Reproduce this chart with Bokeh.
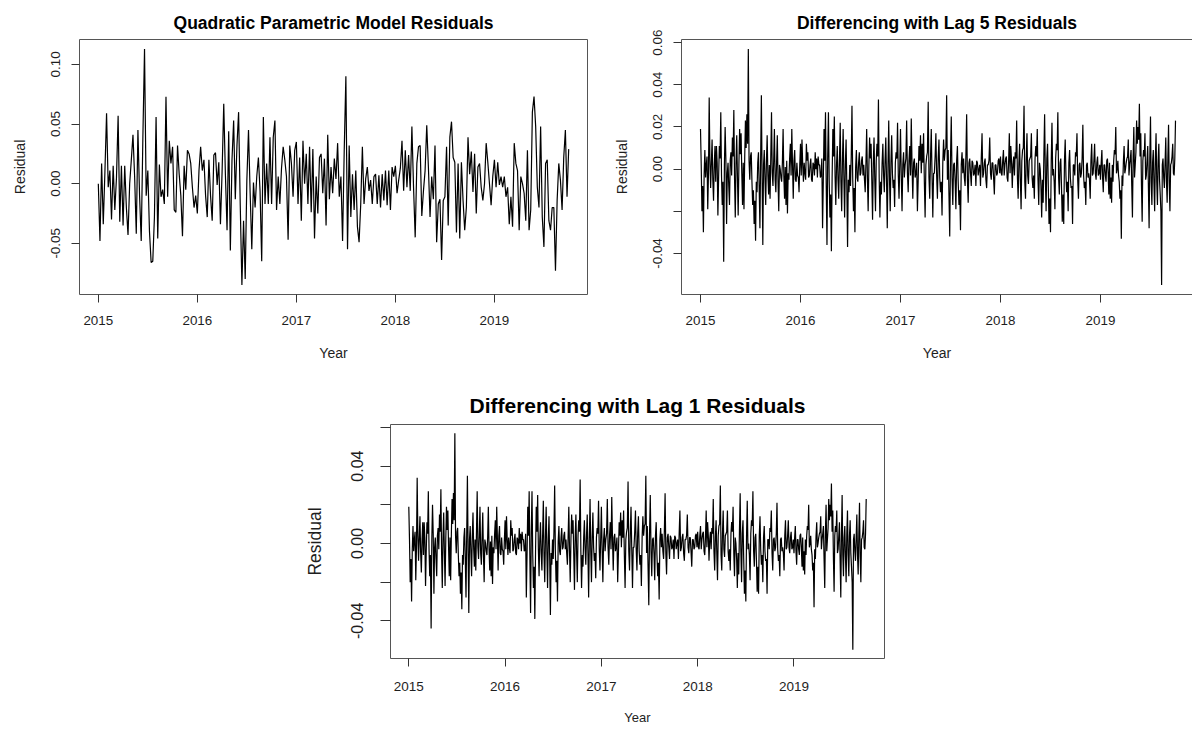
import numpy as np
from bokeh.plotting import figure
from bokeh.layouts import column, row, Spacer
from bokeh.models import FixedTicker, Range1d, LinearAxis
from bokeh.embed import file_html
from bokeh.resources import INLINE

FONT = "Liberation Sans"

# ---------------- data ----------------
years = [2015, 2016, 2017, 2018, 2019]
year_labels = ["2015", "2016", "2017", "2018", "2019"]
series_start = 2015.0
series_end = 2019.75

# Quadratic parametric model residuals (in thousandths), 60 readings per year, 2015.0 .. 2019.75
quad_resid = [
    0, -48, 17, -34, 10, 59, -3, 11, -30, 15,
    -22, 5, 57, -32, 15, -35, 15, -20, -43, 0,
    20, 41, 6, -42, 45, -10, -48, 39, 113, -10,
    11, -40, -66, -65, -28, 56, -46, 16, -11, -5,
    -17, 73, -11, 36, 17, 31, -22, -24, 32, 8,
    -10, -44, 15, -5, 28, 25, 17, -3, -20, -10,
    -25, 11, 31, 11, 20, -10, -28, 20, -10, -31,
    24, 26, -1, 18, -34, 10, 67, 8, -39, 44,
    -56, 20, 53, -13, 32, 60, -18, -85, -31, -80,
    3, 45, -8, -55, 1, -20, 6, 22, -6, -65,
    56, -17, 17, -17, 39, -17, 39, 53, -22, 6,
    -17, 13, 31, 20, 6, -47, 32, 17, -11, 28,
    35, -17, 22, -31, 36, 0, 25, -17, 31, -24,
    29, -46, 6, -25, 22, 25, -8, 21, -35, 41,
    -13, 14, -8, 21, 4, 34, -11, 6, -48, 28,
    90, -55, 32, -28, 8, -22, 11, -36, -49, -17,
    31, -17, 4, 14, -6, 3, -17, 6, 8, -17,
    7, -20, 8, -14, 11, -18, 11, -22, 14, 6,
    15, -8, 3, 13, 36, -6, 28, -3, 24, -6,
    48, -3, -45, 17, 31, 32, -27, -6, 11, 49,
    14, -28, 6, -13, 32, -49, -17, -13, -64, -14,
    -11, 31, -35, 39, 52, 22, 18, -41, 17, -46,
    18, -14, -39, -20, 39, 8, 27, -7, 25, -25,
    14, 17, -3, -14, 0, 34, 18, 0, -18, 6,
    20, -3, 18, -1, 6, -3, 6, -11, -3, -34,
    -11, -36, 34, 17, 11, -39, 6, 0, -8, -31,
    28, -39, -22, 60, 73, 48, -3, -20, 48, -28,
    -53, 17, 20, -31, -39, -20, -20, -73, -14, 17,
    3, -22, 22, 45, -11, 29,
]

# Differencing residuals (in thousandths), one list per calendar year (2019 runs to 2019.75)
diff_resid_2015 = [
    19, 2, -20, -8, -30, -3, 9, -4, 2, 6, -19, -2, 34, 4, -9, 3, 14, -5, -15, 2,
    11, -6, 11, 3, -22, -4, 11, 5, 27, -3, -17, -6, -44, 2, 20, 5, -26, -2, 3, -8,
    -17, 4, 8, -3, 15, 6, 28, -5, -23, 3, 16, -4, -22, 2, 19, 7, 17, -2, -17, 3,
    -19, 5, 23, 10, 26, 12, 57, 4, -5, 6, 8, -6, -17, -10, -26, -15, -34, -6, -11, 3,
    8, -9, -28, 5, 35, -4, -36, 2, 9, -5, -17, 4, 16, -3, -12, 2, -14, 6, 27, -2,
    -8, 4, 19, -5, -11, 3, 16, -6, -20, 2, 0, -4, -6, 3, 19, -3, -14, 1, -17, 4,
    -21, -2, -5, 5, 12, -3, 19, 2, -14, 4, 9, -5, -6, 3, -3, -4, -11, 2,
]
diff_resid_2016 = [
    12, -3, 14, 2, -6, 3, -2, -5, 12, 4, 8, -4, -3, 2, 5, -5, -6, 3, 2, -3,
    8, 0, 5, -4, 6, 2, 2, -4, -3, 5, -28, -6, 19, 4, 27, -8, -36, 6, 27, -5,
    -23, -12, -39, -4, 19, 6, 25, -3, -17, 2, 11, -5, -14, 4, 22, -6, -20, 3, 19, -4,
    -23, 2, 14, -8, -37, -5, -11, 2, -8, 6, 30, -4, -20, -9, -30, 1, 9, -4, -6, 3,
    8, -3, -2, 4, 6, -3, 2, -5, -11, 3, 19, -4, -20, 2, 15, 5, 12, -6, -24, 3,
    15, -5, -20, 4, 12, 6, 33, -4, -23, -6, -12, 3, 12, -3, -11, 4, 15, -5, -28, 2,
    23, -4, -20, 3, 16, -2, -9, -5, -18, 3, 8, 5, 22, -3, -14, 2,
]
diff_resid_2017 = [
    19, -3, -20, 2, 8, -4, 2, 5, 23, -2, -11, 4, 11, -3, 24, 2, -14, 3, 5, -4,
    -2, 3, -20, -5, 11, 4, 16, -2, 12, 3, 17, -6, -23, 2, 6, 8, 32, -4, -14, 5,
    19, -3, -23, -2, -2, 6, 17, -3, -14, 5, 14, -4, -11, -6, -22, 3, 14, 4, 9, 10,
    35, -5, 9, -12, -32, 5, 25, -4, -17, 2, 3, -5, -19, 4, 11, -6, -17, -10, -29, 2,
    8, -2, 5, -4, -8, 6, 26, -5, -16, 3, 5, -2, -8, 4, 3, -3, -2, 2, -8, 4,
    3, -3, 0, 2, -8, 5, 17, -4, -2, 3, 5, -5, -9, 2, 2, 4, 15, -2, -5, 3,
    3, -4, -12, 2, 2, -3, -2, 4, 5, -2,
]
diff_resid_2018 = [
    6, -2, -3, 4, 9, -3, 2, 5, 6, -4, -6, 3, 17, -2, 11, 4, -9, 2, 6, -3,
    8, 5, 23, -4, -14, 3, 12, -5, -19, 4, 9, 10, 30, -6, -14, 5, 17, -3, -7, 4,
    5, 6, 17, -4, -9, -3, -14, 5, 11, 6, 19, -5, -17, 3, 0, -8, -23, -5, -16, 7,
    26, -4, -20, 5, 12, -8, -26, -14, -30, 4, 22, -3, 0, -6, -19, 5, 12, 9, 27, -4,
    -12, 3, 5, -9, -25, -12, -26, 4, 14, -3, -11, -6, -20, 3, 9, -4, -9, -8, -26, 2,
    2, -3, 8, 6, 17, -5, -14, 2, 3, -4, -2, 5, 21, -3, -9, -6, -17, 2, 3, -4,
    -2, -5, -14, 4, 12, -3, -2, 4, 12, -2, -5, 3, 6, -3, -2, 2,
]
diff_resid_2019 = [
    -5, 3, 9, -4, -11, 2, 2, -3, -6, 4, 5, -2, -12, 3, -14, -4, -16, 2, -6, 4,
    9, 7, 20, -2, 0, 4, -3, -6, -14, -10, -33, -3, -8, 4, 11, -2, 0, 3, 5, 6,
    14, -3, 2, 5, 9, -8, -23, 6, 20, -4, 2, 8, 23, 12, 20, 14, 31, 6, 17, -8,
    -25, 4, 9, 6, 17, -5, -3, 4, 11, -9, -28, 5, 25, -6, -17, 3, 9, -7, -20, 5,
    17, -6, -17, 4, 12, -5, -12, -20, -55, 2, 5, -4, -9, 3, 15, -6, -16, 5, 21, -7,
    -20, 2, 3, 6, 12, -2, -3, 5, 23,
]
diff_years = [2015, 2016, 2017, 2018, 2019]
diff_lists = [diff_resid_2015, diff_resid_2016, diff_resid_2017, diff_resid_2018, diff_resid_2019]

quad_yticks = [-0.05, 0.0, 0.05, 0.10]
quad_ylabels = ["-0.05", "0.00", "0.05", "0.10"]
diff_yticks = [-0.04, -0.02, 0.0, 0.02, 0.04, 0.06]
lag5_ylabels = ["-0.04", "", "0.00", "0.02", "0.04", "0.06"]
lag1_ylabels = ["-0.04", "", "0.00", "", "0.04", ""]

# ---------------- derived series ----------------
quad_y = np.array(quad_resid, dtype=float) / 1000.0
quad_x = np.linspace(series_start, series_end, len(quad_y))

dx, dy = [], []
for i, (yr, vals) in enumerate(zip(diff_years, diff_lists)):
    n = len(vals)
    if i == len(diff_years) - 1:
        xs = np.linspace(yr, series_end, n)
    else:
        xs = np.linspace(yr, yr + 1, n, endpoint=False)
    dx.append(xs)
    dy.append(np.array(vals, dtype=float) / 1000.0)
diff_x = np.concatenate(dx)
diff_y = np.concatenate(dy)

def r_range(lo, hi):
    pad = 0.04 * (hi - lo)
    return lo - pad, hi + pad

x_lo, x_hi = r_range(series_start, series_end)
q_lo, q_hi = r_range(quad_y.min(), quad_y.max())
d_lo, d_hi = r_range(diff_y.min(), diff_y.max())

BOX = "#555555"
TICK = "#333333"
TXT = "#1e1e1e"


def style(p, title_size, title_standoff, xtick_size, ytick_size, xlab_size, ylab_size,
          xtick_standoff, ytick_standoff, xlab_standoff, ylab_standoff, ytick_len,
          yticks, ylabels):
    p.title.text_font = FONT
    p.title.text_font_size = title_size
    p.title.text_font_style = "bold"
    p.title.text_color = "black"
    p.title.align = "center"
    p.title.standoff = title_standoff
    p.grid.visible = False
    p.background_fill_color = "white"
    p.border_fill_color = "white"

    xa = p.xaxis[0]
    xa.ticker = FixedTicker(ticks=years)
    xa.major_label_overrides = dict(zip(years, year_labels))
    xa.axis_label = "Year"
    xa.axis_label_text_font = FONT
    xa.axis_label_text_font_size = xlab_size
    xa.axis_label_text_font_style = "normal"
    xa.axis_label_text_color = TXT
    xa.axis_label_standoff = xlab_standoff
    xa.major_label_text_font = FONT
    xa.major_label_text_font_size = xtick_size
    xa.major_label_text_color = TXT
    xa.major_label_standoff = xtick_standoff
    xa.major_tick_out = 8
    xa.major_tick_in = 0
    xa.major_tick_line_color = TICK
    xa.minor_tick_line_color = None

    ya = p.yaxis[0]
    ya.ticker = FixedTicker(ticks=yticks)
    ya.major_label_overrides = dict(zip(yticks, ylabels))
    ya.major_label_orientation = "vertical"
    ya.axis_label = "Residual"
    ya.axis_label_text_font = FONT
    ya.axis_label_text_font_size = ylab_size
    ya.axis_label_text_font_style = "normal"
    ya.axis_label_text_color = TXT
    ya.axis_label_standoff = ylab_standoff
    ya.major_label_text_font = FONT
    ya.major_label_text_font_size = ytick_size
    ya.major_label_text_color = TXT
    ya.major_label_standoff = ytick_standoff
    ya.major_tick_out = ytick_len
    ya.major_tick_in = 0
    ya.major_tick_line_color = TICK
    ya.minor_tick_line_color = None


# ---------- Plot 1: quadratic model residuals ----------
p1 = figure(width=605, height=370, x_range=Range1d(x_lo, x_hi), y_range=Range1d(q_lo, q_hi),
            output_backend="svg", toolbar_location=None,
            min_border_left=79, min_border_right=18, min_border_top=39, min_border_bottom=76,
            title="Quadratic Parametric Model Residuals")
style(p1, "17.5px", 13, "13.4px", "13.4px", "14px", "14px", 13, 11, 17, 21, 8,
      quad_yticks, quad_ylabels)
p1.outline_line_color = BOX
p1.outline_line_width = 1
p1.xaxis.axis_line_color = None
p1.yaxis.axis_line_color = None
p1.line(quad_x, quad_y, line_color="black", line_width=1.2)

# ---------- Plot 2: lag 5 differencing residuals ----------
p2_x_hi = x_lo + 5.11
p2 = figure(width=587, height=370, x_range=Range1d(x_lo, p2_x_hi), y_range=Range1d(d_lo, d_hi),
            output_backend="svg", toolbar_location=None,
            min_border_left=76, min_border_right=0, min_border_top=36, min_border_bottom=76,
            title="Differencing with Lag 5 Residuals")
style(p2, "17.5px", 13, "13.4px", "13.4px", "14px", "14px", 13, 11, 17, 21, 8,
      diff_yticks, lag5_ylabels)
p2.outline_line_color = None
p2.xaxis.axis_line_color = BOX
p2.yaxis.axis_line_color = BOX
top_axis = LinearAxis(ticker=FixedTicker(ticks=[]), axis_line_color=BOX,
                      major_tick_line_color=None, minor_tick_line_color=None,
                      major_tick_out=0, major_tick_in=0, major_label_standoff=0,
                      major_label_text_font_size="0px")
p2.add_layout(top_axis, "above")
p2.line(diff_x, diff_y, line_color="black", line_width=1.2)

# ---------- Plot 3: lag 1 differencing residuals ----------
p3 = figure(width=604, height=361, x_range=Range1d(x_lo, x_hi), y_range=Range1d(d_lo, d_hi),
            output_backend="svg", toolbar_location=None,
            min_border_left=90, min_border_right=20, min_border_top=54, min_border_bottom=73,
            title="Differencing with Lag 1 Residuals")
style(p3, "21px", 16, "13.5px", "16px", "13px", "17.5px", 15, 17, 16, 24, 10,
      diff_yticks, lag1_ylabels)
p3.outline_line_color = BOX
p3.outline_line_width = 1
p3.xaxis.axis_line_color = None
p3.yaxis.axis_line_color = None
p3.line(diff_x, diff_y, line_color="black", line_width=1.2)

layout = column(row(p1, p2), row(Spacer(width=300, height=361), p3))

open("out.html", "w").write(file_html(layout, INLINE))
